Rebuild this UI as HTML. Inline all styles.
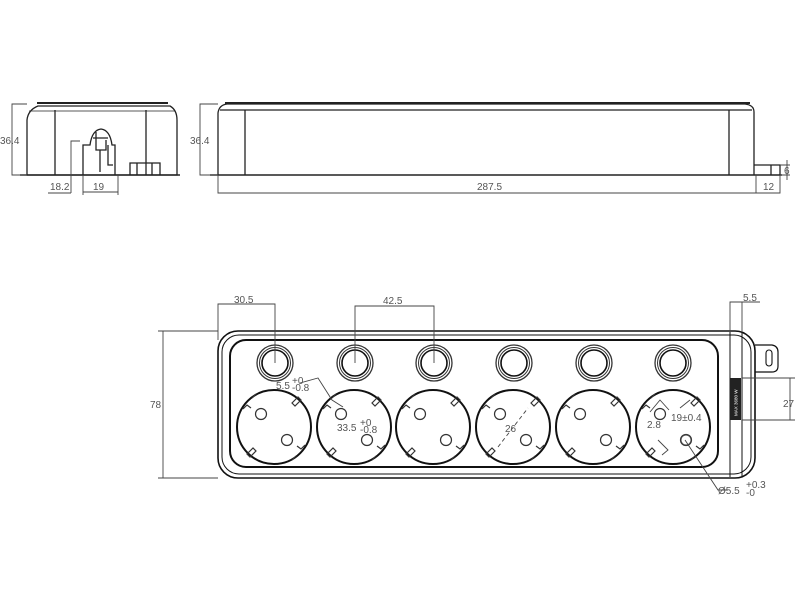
<!DOCTYPE html>
<html><head><meta charset="utf-8"><style>
body{margin:0;background:#fff}
svg{display:block}
text{font-family:"Liberation Sans",sans-serif;font-size:10px;fill:#555}
</style></head><body>
<svg width="800" height="600" viewBox="0 0 800 600">
<defs>
<g id="sock">
 <circle r="37" fill="none" stroke="#111" stroke-width="2"/>
 <circle cx="-13" cy="-13" r="5.5" fill="none" stroke="#333" stroke-width="1.2"/>
 <circle cx="13" cy="13" r="5.5" fill="none" stroke="#333" stroke-width="1.2"/>
 <g stroke="#333" stroke-width="1.2" fill="none">
  <path d="M18,-24 l6,-6 l3,3 l-6,6 z"/>
  <path d="M-18,24 l-6,6 l-3,-3 l6,-6 z"/>
  <path d="M-31,-18 l4,-4 l4,3 M-22,-29 l4,-4"/>
  <path d="M31,18 l-4,4 l-4,-3 M22,29 l-4,4"/>
 </g>
</g>
<g id="btn">
 <circle r="18" fill="none" stroke="#333" stroke-width="1.3"/>
 <circle r="15.5" fill="none" stroke="#333" stroke-width="1"/>
 <circle r="13" fill="none" stroke="#111" stroke-width="1.6"/>
</g>
</defs>

<!-- Left end view -->
<g stroke="#222" fill="none" stroke-width="1.3">
 <path d="M27,175 L27,120 Q28,110 38,106 L170,106 Q177,110 177,120 L177,175 Z"/>
 <path d="M37,103 L168,103" stroke-width="2"/>
 <path d="M29,111 L175,111" stroke-width="0.8"/>
 <line x1="55" y1="110" x2="55" y2="175"/>
 <line x1="146" y1="110" x2="146" y2="175"/>
 <path d="M83,175 L83,145 L90,145 Q92,130 101,129 Q110,130 112,145 L115,145 L115,175"/>
 <path d="M93,138 L108,138 M96,132 L96,150 L106,150 L106,140 M100,150 L100,172 M108,145 L108,165 L113,165"/>
 <path d="M130,175 L130,163 L160,163 L160,175 M137,163 L137,175 M152,163 L152,175"/>
 <line x1="20" y1="175" x2="180" y2="175" stroke-width="1.6"/>
</g>
<g stroke="#444" fill="none" stroke-width="0.9">
 <path d="M27,104 L12,104 L12,175 L27,175"/>
 <path d="M71,193 L71,141 L80,141"/>
 <path d="M83,175 L83,195 M118,175 L118,195 M83,192 L118,192"/>
 <path d="M48,193 L71,193"/>
</g>
<text x="0" y="144">36.4</text>
<text x="50" y="190">18.2</text>
<text x="93" y="190">19</text>

<!-- Side view -->
<g stroke="#222" fill="none" stroke-width="1.3">
 <path d="M218,175 L218,113 Q219,105 227,104 L745,104 Q754,105 754,112 L754,175"/>
 <path d="M225,103 L750,103" stroke-width="2"/>
 <path d="M220,110 L752,110" stroke-width="1.2"/>
 <line x1="245" y1="110" x2="245" y2="175"/>
 <line x1="729" y1="110" x2="729" y2="175"/>
 <path d="M754,165 L780,165 L780,175 M771,165 L771,175"/>
 <line x1="210" y1="175" x2="782" y2="175" stroke-width="1.5"/>
</g>
<g stroke="#444" fill="none" stroke-width="0.9">
 <path d="M218,104 L200,104 L200,175 L218,175"/>
 <path d="M218,175 L218,193 L756,193 L756,175"/>
 <path d="M780,175 L780,193 L756,193"/>
 <path d="M787,160 L787,180 M780,165 L790,165 M780,175 L790,175"/>
</g>
<text x="190" y="144">36.4</text>
<text x="477" y="190">287.5</text>
<text x="763" y="190">12</text>
<text x="784" y="174" font-size="8">6</text>

<!-- Top view -->
<g stroke="#111" fill="none">
 <rect x="218" y="331" width="537" height="147" rx="20" stroke-width="1.6"/>
 <rect x="222" y="335" width="529" height="139" rx="17" stroke-width="1"/>
 <rect x="230" y="340" width="488" height="127" rx="16" stroke-width="2"/>
 <path d="M755,345 L772,345 Q778,346 778,352 L778,366 Q778,372 772,372 L755,372" stroke-width="1.2"/>
 <rect x="766" y="350" width="6" height="16" rx="3" stroke-width="1.1"/>
 <line x1="730" y1="332" x2="730" y2="477" stroke-width="1"/>
 <line x1="742" y1="332" x2="742" y2="477" stroke-width="1"/>
</g>
<rect x="730" y="378" width="11" height="42" fill="#222"/>
<text x="0" y="0" transform="translate(737.5,416) rotate(-90)" style="fill:#fff;font-size:4.5px">MAX 3680 W</text>

<use href="#btn" x="275" y="363"/>
<use href="#btn" x="355" y="363"/>
<use href="#btn" x="434" y="363"/>
<use href="#btn" x="514" y="363"/>
<use href="#btn" x="594" y="363"/>
<use href="#btn" x="673" y="363"/>
<use href="#sock" x="274" y="427"/>
<use href="#sock" x="354" y="427"/>
<use href="#sock" x="433" y="427"/>
<use href="#sock" x="513" y="427"/>
<use href="#sock" x="593" y="427"/>
<use href="#sock" x="673" y="427"/>

<!-- dims top view -->
<g stroke="#444" fill="none" stroke-width="0.9">
 <path d="M218,340 L218,304 L275,304 L275,363"/>
 <path d="M355,363 L355,306 L434,306 L434,363"/>
 <path d="M218,331 L158,331 M163,331 L163,478 M158,478 L218,478"/>
 <path d="M730,332 L730,302 L742,302 L742,332 M742,302 L760,302"/>
 <path d="M742,378 L795,378 M742,420 L795,420 M790,378 L790,420"/>
 <path d="M300,383 L318,378 L332,400 L343,407"/>
 <path d="M498,447 L528,408" stroke-dasharray="4,3"/>
 <path d="M650,412 L660,400 L669,410 M680,408 L690,400 M658,440 L668,450 L662,455"/>
 <path d="M685,440 L718,490 L728,490"/>
 <circle cx="686" cy="440" r="5"/>
</g>
<text x="234" y="303">30.5</text>
<text x="383" y="304">42.5</text>
<text x="150" y="408">78</text>
<text x="743" y="301">5.5</text>
<text x="783" y="407">27</text>
<text x="505" y="432">26</text>
<text x="276" y="389">5.5</text><text x="292" y="384" font-size="6">+0</text><text x="292" y="391" font-size="6">-0.8</text>
<text x="337" y="431">33.5</text><text x="360" y="426" font-size="6">+0</text><text x="360" y="433" font-size="6">-0.8</text>
<text x="671" y="421">19±0.4</text>
<text x="647" y="428">2.8</text>
<text x="718" y="494">Ø5.5</text><text x="746" y="488" font-size="6">+0.3</text><text x="746" y="496" font-size="6">-0</text>
</svg>
</body></html>
